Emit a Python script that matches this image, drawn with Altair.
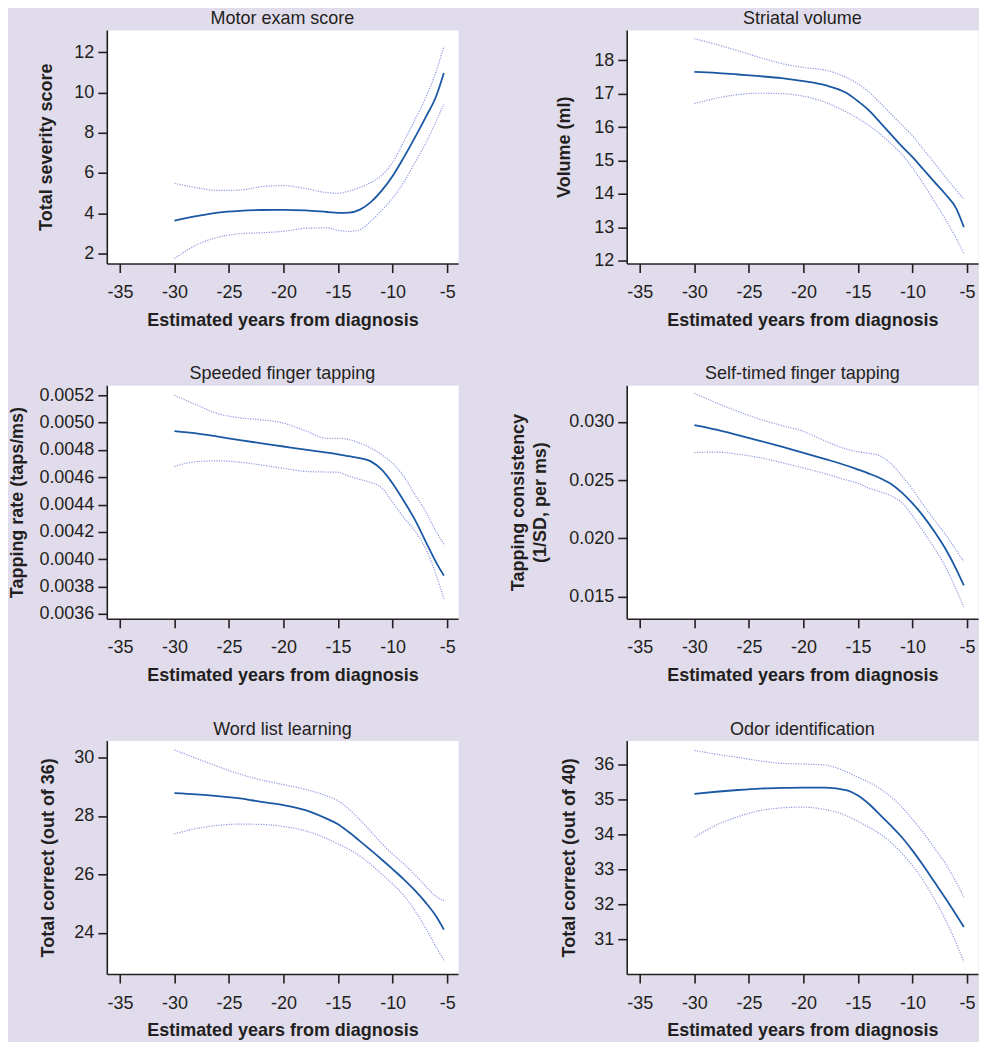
import altair as alt
import pandas as pd

# ---- data ----
years = [-30, -28, -26, -24, -22, -20, -18, -16, -15, -14, -13, -12, -11, -10, -9, -8, -7, -6, -5.3]

motor_est = [3.63, 3.85, 4.03, 4.12, 4.16, 4.17, 4.14, 4.06, 4.02, 4.03, 4.18, 4.55, 5.12, 5.85, 6.75, 7.72, 8.74, 9.82, 10.96]
motor_hi = [5.49, 5.27, 5.13, 5.15, 5.32, 5.37, 5.23, 5.02, 4.99, 5.1, 5.28, 5.52, 5.88, 6.53, 7.53, 8.6, 9.7, 11.06, 12.3]
motor_lo = [1.75, 2.42, 2.81, 2.98, 3.03, 3.1, 3.25, 3.27, 3.15, 3.1, 3.18, 3.61, 4.14, 4.75, 5.52, 6.47, 7.44, 8.58, 9.42]

striatal_est = [17.65, 17.62, 17.57, 17.52, 17.46, 17.37, 17.25, 17.01, 16.77, 16.5, 16.15, 15.79, 15.43, 15.1, 14.73, 14.36, 14.0, 13.57, 13.01]
striatal_hi = [18.64, 18.47, 18.28, 18.08, 17.9, 17.78, 17.7, 17.47, 17.29, 17.05, 16.73, 16.4, 16.07, 15.74, 15.33, 14.93, 14.51, 14.11, 13.85]
striatal_lo = [16.7, 16.86, 16.97, 17.01, 17.0, 16.92, 16.74, 16.44, 16.26, 16.05, 15.8, 15.51, 15.19, 14.78, 14.3, 13.78, 13.25, 12.67, 12.22]

speeded_est = [0.004938, 0.004921, 0.004897, 0.004872, 0.004848, 0.004825, 0.004802, 0.00478, 0.004768, 0.004754, 0.00474, 0.004716, 0.004655, 0.004554, 0.00443, 0.004295, 0.004135, 0.003975, 0.00388]
speeded_hi = [0.00520, 0.00513, 0.005065, 0.005035, 0.00502, 0.004996, 0.00494, 0.004885, 0.004885, 0.004876, 0.00485, 0.004813, 0.004766, 0.004702, 0.004608, 0.004479, 0.004353, 0.0042, 0.00411]
speeded_lo = [0.004679, 0.004714, 0.00472, 0.00471, 0.004689, 0.004665, 0.004643, 0.004638, 0.004636, 0.004609, 0.004584, 0.004562, 0.004523, 0.004417, 0.004308, 0.004212, 0.004083, 0.003883, 0.00371]

selftimed_est = [0.02972, 0.02933, 0.02886, 0.02837, 0.02786, 0.02734, 0.0268, 0.02623, 0.0259, 0.02556, 0.02518, 0.02468, 0.02394, 0.0230, 0.02189, 0.02059, 0.01913, 0.01737, 0.01596]
selftimed_hi = [0.03245, 0.03163, 0.03088, 0.03022, 0.02968, 0.02918, 0.02835, 0.02764, 0.02742, 0.0273, 0.02708, 0.02643, 0.02538, 0.0242, 0.02285, 0.02157, 0.02036, 0.01899, 0.0180]
selftimed_lo = [0.02736, 0.0274, 0.02722, 0.02692, 0.0265, 0.02603, 0.02555, 0.02498, 0.02473, 0.0243, 0.02401, 0.02366, 0.02308, 0.02193, 0.02057, 0.01917, 0.01761, 0.01561, 0.0141]

word_est = [28.78, 28.74, 28.68, 28.6, 28.48, 28.37, 28.2, 27.9, 27.72, 27.44, 27.14, 26.83, 26.51, 26.18, 25.84, 25.47, 25.05, 24.56, 24.11]
word_hi = [30.26, 29.97, 29.69, 29.43, 29.23, 29.07, 28.91, 28.68, 28.52, 28.23, 27.87, 27.47, 27.06, 26.69, 26.37, 26.0, 25.61, 25.24, 25.1]
word_lo = [27.39, 27.57, 27.68, 27.72, 27.71, 27.64, 27.49, 27.22, 27.04, 26.86, 26.63, 26.34, 26.01, 25.67, 25.29, 24.79, 24.18, 23.51, 23.06]

odor_est = [35.15, 35.21, 35.26, 35.3, 35.32, 35.33, 35.33, 35.25, 35.1, 34.86, 34.56, 34.25, 33.92, 33.53, 33.1, 32.64, 32.18, 31.7, 31.35]
odor_hi = [36.39, 36.28, 36.19, 36.09, 36.02, 36.0, 35.97, 35.77, 35.62, 35.48, 35.3, 35.07, 34.78, 34.42, 34.04, 33.61, 33.17, 32.63, 32.2]
odor_lo = [33.91, 34.26, 34.5, 34.67, 34.75, 34.77, 34.7, 34.52, 34.36, 34.2, 34.01, 33.77, 33.46, 33.1, 32.67, 32.15, 31.57, 30.89, 30.35]

titles = ["Motor exam score", "Striatal volume", "Speeded finger tapping",
          "Self-timed finger tapping", "Word list learning", "Odor identification"]
y_titles = ["Total severity score", "Volume (ml)", "Tapping rate (taps/ms)",
            ["Tapping consistency", "(1/SD, per ms)"], "Total correct (out of 36)",
            "Total correct (out of 40)"]
x_title = "Estimated years from diagnosis"
x_ticks = [-35, -30, -25, -20, -15, -10, -5]
y_ticks = [
    [2, 4, 6, 8, 10, 12],
    [12, 13, 14, 15, 16, 17, 18],
    [0.0036, 0.0038, 0.0040, 0.0042, 0.0044, 0.0046, 0.0048, 0.0050, 0.0052],
    [0.015, 0.020, 0.025, 0.030],
    [24, 26, 28, 30],
    [31, 32, 33, 34, 35, 36],
]
y_formats = ["d", "d", ".4f", ".3f", "d", "d"]
y_domains = [[1.5, 13.1], [11.92, 18.9], [0.003564, 0.005273],
             [0.0131, 0.03313], [22.59, 30.58], [30.01, 36.67]]
x_domain = [-36.2, -4.0]

series_est = [motor_est, striatal_est, speeded_est, selftimed_est, word_est, odor_est]
series_hi = [motor_hi, striatal_hi, speeded_hi, selftimed_hi, word_hi, odor_hi]
series_lo = [motor_lo, striatal_lo, speeded_lo, selftimed_lo, word_lo, odor_lo]

# ---- style ----
BG = "#e1dcec"
EST_COLOR = "#1b58a4"
CI_COLOR = "#8e99df"
INK = "#231f20"
FONT = "Liberation Sans"
W, H = 352, 234
Y_TITLE_PAD = [18, 20, 12, 19, 16, 15]


def panel(i):
    rows = []
    for name, vals in (("est", series_est[i]), ("upper", series_hi[i]), ("lower", series_lo[i])):
        for x, y in zip(years, vals):
            rows.append({"x": x, "y": y, "series": name})
    df = pd.DataFrame(rows)
    xenc = alt.X("x:Q",
                 scale=alt.Scale(domain=x_domain, nice=False, zero=False),
                 axis=alt.Axis(values=x_ticks, title=x_title,
                               labelExpr="toString(datum.value)"))
    yenc = alt.Y("y:Q",
                 scale=alt.Scale(domain=y_domains[i], nice=False, zero=False),
                 axis=alt.Axis(values=y_ticks[i], title=y_titles[i], format=y_formats[i],
                               titlePadding=Y_TITLE_PAD[i]))
    base = alt.Chart(df)
    ci = base.transform_filter(alt.datum.series != "est").mark_line(
        color=CI_COLOR, strokeWidth=1.2, strokeDash=[1.2, 1.3], interpolate="monotone"
    ).encode(x=xenc, y=yenc, detail="series:N")
    est = base.transform_filter(alt.datum.series == "est").mark_line(
        color=EST_COLOR, strokeWidth=1.8, interpolate="monotone"
    ).encode(x=xenc, y=yenc)
    return alt.layer(ci, est).properties(width=W, height=H, title=titles[i])


chart = alt.concat(
    *[panel(i) for i in range(6)],
    columns=2,
    spacing={"row": 122, "column": 169},
    bounds="flush",
).properties(
    background=BG,
    padding={"left": 0, "top": 0, "right": 0, "bottom": 0},
).configure_view(
    fill="white", stroke="transparent"
).configure_title(
    font=FONT, fontSize=18, fontWeight="normal", color=INK, offset=2, anchor="middle"
).configure_axis(
    grid=False, domainColor=INK, domainWidth=1.6, tickColor=INK, tickWidth=1.6,
    tickSize=9, labelFont=FONT, labelFontSize=18, labelColor=INK,
    titleFont=FONT, titleFontSize=18, titleFontWeight="bold", titleColor=INK,
    labelOverlap=False, titleLineHeight=22
).configure_axisX(
    labelPadding=11, titlePadding=10
).configure_axisY(
    labelPadding=4
)

chart.save("out.html", embed_options={"renderer": "svg", "actions": False})
